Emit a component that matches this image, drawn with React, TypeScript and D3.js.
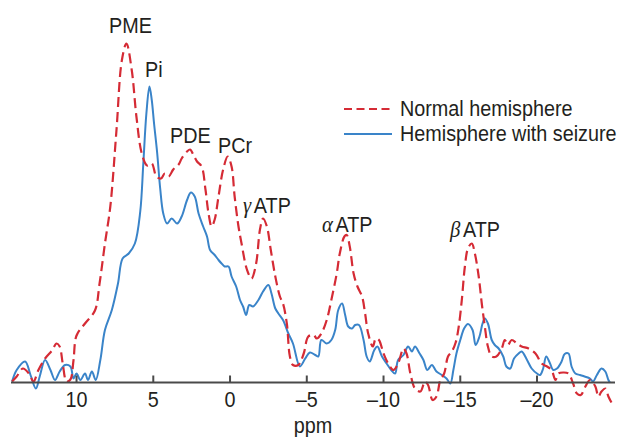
import { line, curveCatmullRom, scaleLinear } from "d3";

// 31P MR spectrum, ppm axis runs right to left
const normalPpm = [
  14.2, 13.9, 13.5, 13.1, 12.8, 12.5, 12.05, 11.6, 11.3, 11.1, 10.9, 10.65, 10.4, 10.2, 10.0,
  9.45, 8.8, 8.5, 8.15, 7.8, 7.4, 7.05, 6.75, 6.4, 6.1, 5.75, 5.4, 5.1, 4.8, 4.5, 4.25, 4.0,
  3.7, 3.35, 3.15, 2.8, 2.6, 2.4, 2.15, 1.85, 1.6, 1.4, 1.2, 1.0, 0.75, 0.45, 0.15, -0.1, -0.3,
  -0.55, -0.75, -1.1, -1.4, -1.7, -1.95, -2.15, -2.4, -2.65, -2.95, -3.25, -3.45, -3.7, -3.9,
  -4.1, -4.45, -4.8, -5.1, -5.45, -5.65, -5.95, -6.3, -6.6, -6.95, -7.15, -7.45, -7.6, -7.8,
  -8.05, -8.3, -8.6, -8.8, -9.0, -9.3, -9.5, -9.7, -10.0, -10.3, -10.65, -10.95, -11.3, -11.5,
  -11.75, -12.05, -12.4, -12.7, -12.9, -13.2, -13.45, -13.7, -13.95, -14.2, -14.45, -14.7,
  -14.9, -15.1, -15.3, -15.5, -15.75, -15.95, -16.2, -16.4, -16.6, -16.8, -17.05, -17.35,
  -17.7, -17.9, -18.1, -18.35, -18.7, -19.0, -19.45, -19.9, -20.3, -20.65, -20.95, -21.2,
  -21.4, -21.7, -22.05, -22.35, -22.6, -22.85, -23.15, -23.45, -23.8, -24.0, -24.2, -24.45,
  -24.65, -24.85,
];
const normalSignal = [
  0.1, 0.6, 1.4, 0.9, 0.1, 1.2, 2.4, 3.2, 3.9, 3.6, 1.9, 0.1, 0.3, 2.2, 4.7,
  5.9, 7.2, 9.9, 13.9, 17.6, 25.2, 32.2, 33.9, 31.2, 26.6, 22.9, 21.7, 21.9, 20.6, 20.4, 20.9, 20.6,
  21.3, 21.8, 22.4, 23.1, 23.3, 22.8, 22.1, 21.6, 19.3, 16.9, 15.6, 16.3, 18.6, 21.3, 22.6, 21.6, 18.6,
  15.6, 13.9, 11.3, 10.4, 11.9, 15.3, 16.4, 15.6, 13.3, 10.6, 8.6, 7.9, 5.9, 2.6,
  1.75, 1.75, 2.9, 4.6, 4.75, 4.4, 4.9, 6.25, 8.25, 10.9, 12.9, 14.6, 14.75, 13.6,
  10.9, 9.6, 8.6, 6.9, 4.9, 3.6, 4.4, 4.25, 2.9, 1.9, 1.25, 1.9, 3.4, 2.9,
  0.9, -0.6, -0.9, 0.1, -0.25, -1.75, -1.4, 0.25, 0.9, 2.6, 3.1, 4.0,
  5.6, 8.25, 11.6, 13.4, 13.9, 12.9, 10.6, 7.9, 5.6, 3.6, 2.6, 2.6,
  3.4, 4.25, 3.75, 4.25, 3.9, 3.6, 3.4, 2.9, 1.9, 1.6, 1.25, 0.25,
  0.9, 1.0, 0.9, -0.1, -1.1, -1.25, -0.4, 0.25, -0.4, -1.4, -0.9, -0.6,
  -1.4, -2.0,
];

const seizurePpm = [
  14.2, 13.9, 13.35, 13.0, 12.65, 12.4, 12.05, 11.7, 11.4, 11.1, 10.75, 10.4, 10.2, 10.0, 9.75,
  9.45, 9.25, 9.0, 8.75, 8.45, 8.15, 7.7, 7.3, 7.0, 6.6, 6.2, 5.85, 5.65, 5.45, 5.25, 5.1, 4.95,
  4.75, 4.55, 4.35, 4.1, 3.8, 3.45, 3.15, 2.8, 2.55, 2.3, 2.05, 1.75, 1.5, 1.3, 1.0, 0.75, 0.55,
  0.35, 0.1, -0.1, -0.4, -0.65, -0.85, -1.05, -1.25, -1.5, -1.85, -2.15, -2.5, -2.7, -2.95, -3.15,
  -3.45, -3.8, -4.1, -4.55, -4.9, -5.2, -5.55, -5.75, -5.95, -6.3, -6.6, -6.85, -7.05, -7.3,
  -7.5, -7.7, -7.95, -8.15, -8.4, -8.7, -8.9, -9.1, -9.4, -9.6, -9.9, -10.2, -10.5, -10.75,
  -10.95, -11.3, -11.6, -11.85, -12.05, -12.35, -12.6, -12.85, -13.15, -13.45, -13.8, -14.1,
  -14.35, -14.55, -14.75, -15.0, -15.25, -15.5, -15.8, -16.0, -16.25, -16.45, -16.6, -16.8,
  -17.05, -17.25, -17.5, -17.8, -18.0, -18.25, -18.5, -18.8, -19.0, -19.35, -19.65, -20.0,
  -20.2, -20.4, -20.6, -20.85, -21.05, -21.3, -21.6, -21.8, -22.05, -22.25, -22.5, -22.8,
  -23.1, -23.45, -23.65, -23.9, -24.2, -24.45, -24.65, -24.75,
];
const seizureSignal = [
  0.1, 1.25, 2.1, 0.75, -0.6, 0.6, 2.25, 1.25, 0.25, 1.1, 1.75, 1.6, 0.4, 0.9, 0.25,
  0.9, 0.25, 1.1, 0.25, 2.25, 5.25, 7.25, 9.9, 12.4, 12.9, 13.9, 17.1, 21.9, 26.9, 29.6, 28.25, 25.9,
  23.0, 19.4, 16.9, 15.9, 16.4, 15.9, 16.6, 18.25, 19.0, 18.6, 16.9, 15.6, 14.6, 13.25, 12.75, 12.25, 11.9,
  11.6, 11.6, 10.6, 9.6, 8.25, 7.6, 6.75, 7.75, 7.6, 8.25, 9.1, 9.75, 8.9, 7.4, 6.9,
  6.25, 4.9, 3.9, 1.6, 2.4, 3.0, 2.75, 2.6, 4.25, 3.9, 4.25, 5.25, 7.25, 7.9,
  6.75, 5.6, 5.4, 5.75, 5.75, 4.25, 2.6, 2.1, 3.25, 3.6, 2.6, 1.9, 1.25, 0.9,
  2.25, 2.75, 3.6, 3.1, 3.6, 2.9, 2.25, 1.25, 1.75, 1.1, 0.75, 0.4,
  -0.1, 1.25, 2.9, 4.25, 5.4, 5.85, 5.25, 3.75, 4.6, 5.9, 6.4, 5.9,
  4.25, 3.75, 3.4, 2.6, 1.6, 1.4, 2.4, 2.9, 3.1, 2.25, 1.4, 0.9,
  0.75, 1.4, 2.6, 1.9, 1.25, 1.4, 2.1, 2.85, 2.9, 1.6, 0.9, 0.75,
  0.6, 0.4, 0.1, 0.75, 1.4, 1.1, 0.25, 0,
];

const xTicks = [10, 5, 0, -5, -10, -15, -20];

const peakLabels = [
  { greek: "", name: "PME", x: 109, y: 33 },
  { greek: "", name: "Pi", x: 145, y: 77 },
  { greek: "", name: "PDE", x: 170, y: 143 },
  { greek: "", name: "PCr", x: 218, y: 152.5 },
  { greek: "γ", name: "ATP", x: 243, y: 212.5 },
  { greek: "α", name: "ATP", x: 322, y: 231.5 },
  { greek: "β", name: "ATP", x: 450, y: 236.5 },
];

const legendItems = [
  { label: "Normal hemisphere", color: "#d52b35", dash: "8,4.5" },
  { label: "Hemisphere with seizure", color: "#3a84c9", dash: "" },
];

const RED = "#d52b35";
const BLUE = "#3a84c9";
const INK = "#231f20";
const FONT = "'Liberation Sans', Arial, Helvetica, sans-serif";
const SERIF = "'Liberation Serif', 'Times New Roman', serif";

// the original type is a tall, slightly narrow grotesque: squeeze a bigger size
function Txt({ x, y, anchor = "start", children }: { x: number; y: number; anchor?: string; children: any }) {
  return (
    <text transform={`translate(${x},${y}) scale(0.9,1)`} textAnchor={anchor} fontSize={22} fill={INK}>
      {children}
    </text>
  );
}

export default function App() {
  const width = 627;
  const height = 437;
  const baseY = 382.5;

  const x = scaleLinear().domain([14.27, -25.08]).range([11, 615]);
  const y = scaleLinear().domain([0, 34]).range([baseY, 42.5]);

  const path = line<[number, number]>()
    .x((d) => x(d[0]))
    .y((d) => y(d[1]))
    .curve(curveCatmullRom.alpha(0.5));

  const normal = normalPpm.map((p, i) => [p, normalSignal[i]] as [number, number]);
  const seizure = seizurePpm.map((p, i) => [p, seizureSignal[i]] as [number, number]);

  return (
    <svg
      width={width}
      height={height}
      style={{ position: "absolute", left: 0, top: 0, background: "#fff" }}
      fontFamily={FONT}
    >
      <path d={path(seizure) ?? ""} fill="none" stroke={BLUE} strokeWidth={2} strokeLinejoin="round" />
      <path
        d={path(normal) ?? ""}
        fill="none"
        stroke={RED}
        strokeWidth={2.2}
        strokeDasharray="10,5"
        strokeLinejoin="round"
      />

      {/* axis */}
      <g stroke="#4a4a4a" strokeWidth={2}>
        <line x1={x.range()[0]} x2={x.range()[1]} y1={baseY} y2={baseY} />
        {xTicks.map((t) => (
          <line key={t} x1={x(t)} x2={x(t)} y1={baseY} y2={baseY - 7} />
        ))}
      </g>
      {xTicks.map((t) => (
        <Txt key={t} x={x(t)} y={407} anchor="middle">
          {t < 0 ? `\u2013${-t}` : t}
        </Txt>
      ))}
      <Txt x={313} y={432.5} anchor="middle">ppm</Txt>

      {/* peak names */}
      {peakLabels.map((l) => (
        <Txt key={l.name + l.x} x={l.x} y={l.y}>
          {l.greek && (
            <tspan fontFamily={SERIF} fontStyle="italic" fontSize={23}>
              {l.greek}
            </tspan>
          )}
          {l.greek ? <tspan dx={3}>{l.name}</tspan> : l.name}
        </Txt>
      ))}

      {/* legend */}
      {legendItems.map((d, i) => (
        <g key={d.label}>
          <line
            x1={344}
            x2={392}
            y1={109 + i * 25}
            y2={109 + i * 25}
            stroke={d.color}
            strokeWidth={2}
            strokeDasharray={d.dash || undefined}
          />
          <Txt x={400} y={116 + i * 25}>{d.label}</Txt>
        </g>
      ))}
    </svg>
  );
}
